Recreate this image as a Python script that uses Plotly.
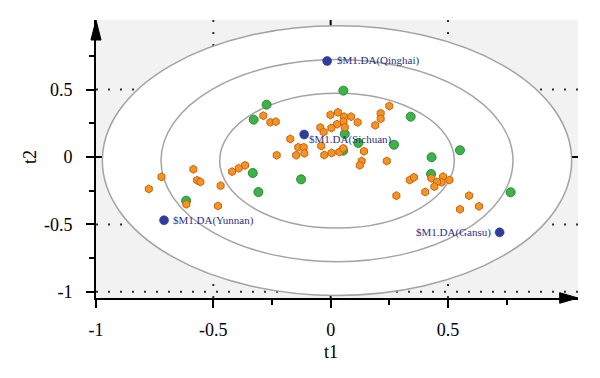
import plotly.graph_objects as go

# ---- data ----
orange_t1 = [-0.287, -0.257, -0.234, -0.230, -0.365, -0.392, -0.420, -0.585, -0.721, -0.775,
             -0.569, -0.555, -0.469, -0.615, -0.480, 0.250, 0.213, 0.213, 0.190, 0.115,
             0.087, 0.057, 0.055, 0.060, 0.031, -0.001, 0.027, 0.003, -0.044, -0.030,
             -0.172, -0.138, -0.115, -0.147, -0.112, -0.040, -0.027, 0.004, 0.037, 0.054,
             0.142, 0.132, 0.124, 0.239, 0.337, 0.355, 0.280, 0.403, 0.429, 0.479,
             0.506, 0.473, 0.453, 0.442, 0.590, 0.632, 0.551]
orange_t2 = [0.306, 0.257, 0.262, 0.013, -0.062, -0.084, -0.109, -0.091, -0.148, -0.237,
             -0.173, -0.185, -0.213, -0.351, -0.363, 0.378, 0.324, 0.284, 0.235, 0.257,
             0.299, 0.299, 0.262, 0.220, 0.331, 0.312, 0.243, 0.215, 0.218, 0.185,
             0.134, 0.072, 0.072, 0.013, 0.027, 0.082, 0.015, 0.030, 0.037, 0.064,
             0.042, -0.030, -0.062, -0.030, -0.171, -0.151, -0.287, -0.260, -0.158, -0.146,
             -0.171, -0.188, -0.185, -0.220, -0.287, -0.366, -0.388]

green_t1 = [-0.273, -0.328, 0.054, 0.341, 0.060, 0.118, 0.053, 0.270, 0.430, 0.551,
            0.428, 0.767, -0.126, -0.332, -0.308, -0.616]
green_t2 = [0.388, 0.277, 0.492, 0.299, 0.171, 0.104, 0.047, 0.091, -0.002, 0.050,
            -0.126, -0.262, -0.166, -0.119, -0.260, -0.324]

blue_labels = ["$M1.DA(Qinghai)", "$M1.DA(Sichuan)", "$M1.DA(Yunnan)", "$M1.DA(Gansu)"]
blue_t1 = [-0.015, -0.113, -0.710, 0.720]
blue_t2 = [0.712, 0.167, -0.469, -0.559]

major_ticks = [-1, -0.5, 0, 0.5]
major_text = ["-1", "-0.5", "0", "0.5"]
x_minor = [-0.25, 0.25, 0.75]
y_minor = [-0.75, -0.25, 0.25, 0.75]
grid_vals = [-0.5, 0.5]
grid_y_vals = [-1, -0.5, 0.5]

ell_cx, ell_cy = 0.027, -0.027
ell_radii = [1.0, 0.75, 0.5]

XR = [-1.0, 1.054]
YR = [-1.046, 1.016]

SERIF = "Liberation Serif, Times New Roman, serif"
LABEL_COLOR = "#2c2f7f"

fig = go.Figure()

fig.add_trace(go.Scatter(x=green_t1, y=green_t2, mode="markers",
                         marker=dict(symbol="circle", size=9, color="#3db249",
                                     line=dict(color="#2b8a36", width=1)),
                         showlegend=False, hoverinfo="skip"))
fig.add_trace(go.Scatter(x=orange_t1, y=orange_t2, mode="markers",
                         marker=dict(symbol="hexagon", size=8, color="#f7941d",
                                     line=dict(color="#c4621a", width=1)),
                         showlegend=False, hoverinfo="skip"))
fig.add_trace(go.Scatter(x=blue_t1, y=blue_t2, mode="markers",
                         marker=dict(symbol="circle", size=9, color="#2f3d9c",
                                     line=dict(color="#25307e", width=0.5)),
                         showlegend=False, hoverinfo="skip"))

shapes = []
# ellipses (outer one filled white)
for i, r in enumerate(ell_radii):
    shapes.append(dict(type="circle", xref="x", yref="y",
                       x0=ell_cx - r, x1=ell_cx + r, y0=ell_cy - r, y1=ell_cy + r,
                       fillcolor="white" if i == 0 else "rgba(0,0,0,0)",
                       line=dict(color="#a3a3a3", width=1.5), layer="below"))
# dotted grid
for v in grid_vals:
    shapes.append(dict(type="line", xref="x", yref="paper", x0=v, x1=v, y0=0, y1=1,
                       line=dict(color="#333333", width=2, dash="2px,10px"), layer="below"))
for v in grid_y_vals:
    shapes.append(dict(type="line", xref="paper", yref="y", x0=0, x1=1, y0=v, y1=v,
                       line=dict(color="#333333", width=2, dash="2px,10px"), layer="below"))
# crosshair
shapes.append(dict(type="line", xref="x", yref="paper", x0=0, x1=0, y0=0, y1=1,
                   line=dict(color="black", width=2), layer="below"))
shapes.append(dict(type="line", xref="paper", yref="y", x0=-0.02, x1=1, y0=0, y1=0,
                   line=dict(color="black", width=2), layer="below"))
# arrow heads
shapes.append(dict(type="path", xref="paper", yref="paper",
                   path="M -0.0105 0.928 L 0.0105 0.928 L 0 1.0 Z",
                   fillcolor="black", line=dict(color="black", width=1)))
shapes.append(dict(type="path", xref="paper", yref="paper",
                   path="M 0.962 -0.019 L 0.962 0.019 L 1.0 0 Z",
                   fillcolor="black", line=dict(color="black", width=1)))

annotations = []
label_pos = [("left", 8, 0), ("left", 3, -5), ("left", 7, 0), ("right", -7, 0)]
for lab, x, y, (anc, xs, ys) in zip(blue_labels, blue_t1, blue_t2, label_pos):
    annotations.append(dict(x=x, y=y, xref="x", yref="y", text=lab, showarrow=False,
                            xanchor=anc, yanchor="middle", xshift=xs, yshift=ys,
                            font=dict(family=SERIF, size=11, color=LABEL_COLOR)))
annotations.append(dict(x=0, y=0, xref="x", yref="paper", text="t1", showarrow=False,
                        xanchor="center", yanchor="middle", yshift=-54,
                        font=dict(family=SERIF, size=18, color="black")))
annotations.append(dict(x=0, y=0, xref="paper", yref="y", text="t2", showarrow=False,
                        xanchor="center", yanchor="middle", xshift=-66, textangle=-90,
                        font=dict(family=SERIF, size=18, color="black")))

fig.update_layout(
    width=592, height=370,
    margin=dict(l=88, r=22, t=12, b=80),
    paper_bgcolor="white", plot_bgcolor="#f2f2f2",
    shapes=shapes, annotations=annotations,
    xaxis=dict(range=XR, showgrid=False, zeroline=False, showline=True,
               linecolor="black", linewidth=2,
               tickmode="array", tickvals=major_ticks, ticktext=major_text,
               ticks="outside", ticklen=8, tickwidth=1.5, tickcolor="black",
               ticklabelstandoff=6,
               minor=dict(tickvals=x_minor, ticks="outside", ticklen=5, tickwidth=1.5,
                          tickcolor="black", showgrid=False),
               tickfont=dict(family=SERIF, size=18, color="black")),
    yaxis=dict(range=YR, showgrid=False, zeroline=False, showline=True,
               linecolor="black", linewidth=2,
               tickmode="array", tickvals=major_ticks, ticktext=major_text,
               ticks="outside", ticklen=8, tickwidth=1.5, tickcolor="black",
               ticklabelstandoff=10,
               minor=dict(tickvals=y_minor, ticks="outside", ticklen=5, tickwidth=1.5,
                          tickcolor="black", showgrid=False),
               tickfont=dict(family=SERIF, size=18, color="black")),
)

fig.write_html("out.html")
